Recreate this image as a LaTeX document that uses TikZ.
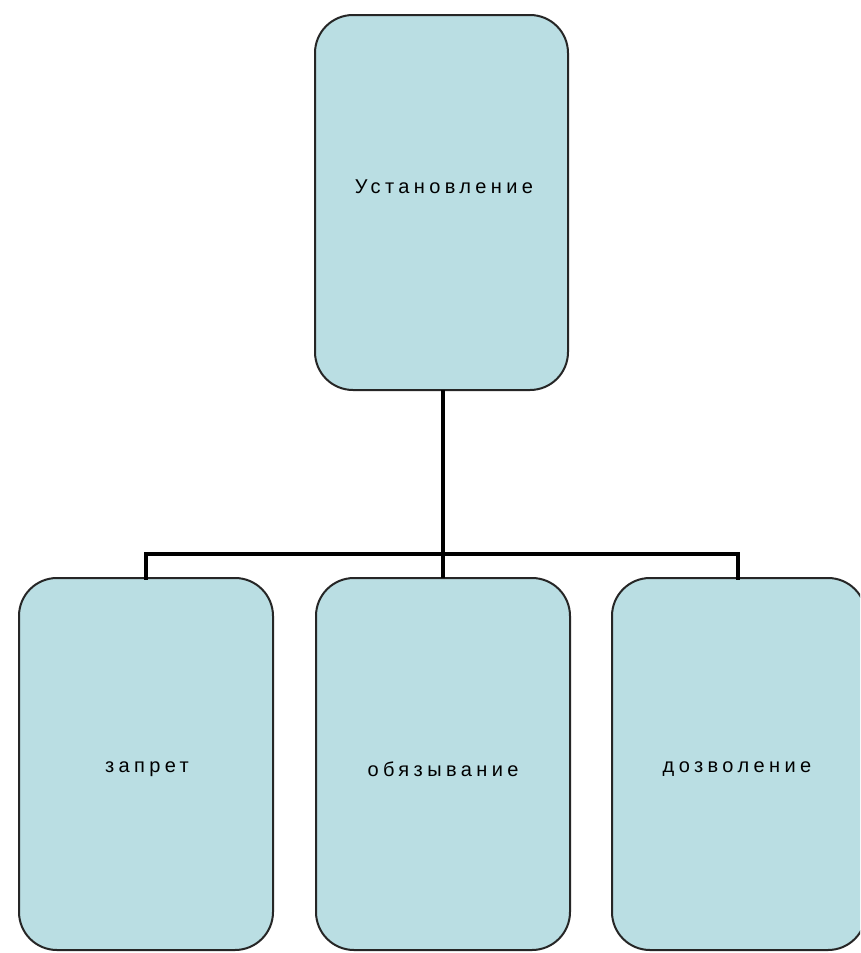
\documentclass[tikz,border=0pt]{standalone}
\usepackage{fontspec}
\setmainfont{Liberation Sans}[LetterSpace=22]
\definecolor{boxfill}{HTML}{BADEE3}
\begin{document}
\begin{tikzpicture}[x=1pt,y=-1pt,
  blk/.style={draw=black!85,line width=2pt,fill=boxfill,rounded corners=38pt},
  lbl/.style={font=\fontsize{20}{24}\selectfont,text=black},
  conn/.style={line width=4pt,black}]
\useasboundingbox (0,0) rectangle (860,953);
\clip (0,0) rectangle (860,953);
\fill[white] (0,0) rectangle (860,953);
\draw[blk] (315,15) rectangle (568,390);
\draw[blk] (19,578) rectangle (273,950);
\draw[blk] (316,578) rectangle (570,950);
\draw[blk] (612,578) rectangle (866,950);
\node[lbl] (top) at (444,187) {Установление};
\node[lbl] (a) at (147,769) {запрет};
\node[lbl] (b) at (443,769) {обязывание};
\node[lbl] (c) at (737,769) {дозволение};
\coordinate (tb) at (443,390);
\coordinate (hm) at (443,554);
\coordinate (hl) at (146,554);
\coordinate (hr) at (738,554);
\coordinate (al) at (146,578);
\coordinate (bm) at (443,578);
\coordinate (cr) at (738,578);
\draw[conn] (tb) -- (hm);
\draw[conn,line cap=rect] (al) -- (hl) -- (hr) -- (cr);
\draw[conn] (hm) -- (bm);
\end{tikzpicture}
\end{document}
